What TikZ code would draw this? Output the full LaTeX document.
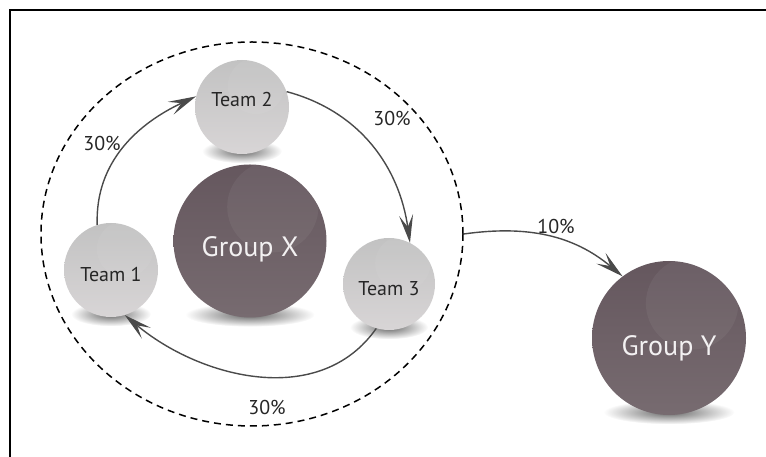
\documentclass[tikz,border=0pt]{standalone}
\usepackage{fontspec}
\setmainfont{PT Sans}
\usetikzlibrary{arrows.meta,shapes.geometric,fadings,backgrounds,calc}

\definecolor{teamtop}{HTML}{C2C2C2}
\definecolor{teambot}{HTML}{D8D5D6}
\definecolor{grptop}{HTML}{65575E}
\definecolor{grpbot}{HTML}{776B70}
\definecolor{flowgray}{HTML}{4A4A4A}

\tikzfading[name=softshadow, inner color=transparent!0, outer color=transparent!100]

\tikzset{
  team/.style={circle, minimum size=94pt, inner sep=0pt,
    top color=teamtop, bottom color=teambot},
  group/.style={circle, minimum size=153pt, inner sep=0pt,
    top color=grptop, bottom color=grpbot},
  flow/.style={draw=flowgray, line width=1.4pt,
    -{Stealth[length=28pt,width=14pt,inset=12pt]}},
  pct/.style={font=\fontsize{20}{24}\selectfont, text=black!85},
  teamlbl/.style={font=\fontsize{20}{24}\selectfont, text=black!85},
  grplbl/.style={font=\fontsize{28}{32}\selectfont, text=white!92!grptop},
}

\begin{document}
\begin{tikzpicture}[x=1pt, y=1pt]
    \useasboundingbox (0,0) rectangle (766,457);
    % frame
    \draw[line width=1.5pt] (10,0) -- (10,447) -- (766,447);

    % spheres
    \node[team] (t2) at (242,350) {};
    \node[team] (t1) at (111,187) {};
    \node[team, minimum size=92pt] (t3) at (389,173) {};
    \node[group] (gx) at (250,216) {};
    \node[group, minimum size=154pt] (gy) at (669,119) {};

    % shadows and highlights
    \begin{scope}[on background layer]
        \foreach \n/\r in {t1/47, t2/47, t3/46, gx/76, gy/77}
            \fill[black, opacity=.6, path fading=softshadow]
                ($(\n.south)+(0,3)$) ellipse ({.85*\r} and 12);
    \end{scope}
    \foreach \n/\r in {t1/47, t2/47, t3/46, gx/76, gy/77}{
        \begin{scope}
            \clip (\n) circle (\r);
            \fill[white, opacity=.05] ($(\n)+(.3*\r,.45*\r)$) circle ({.6*\r});
        \end{scope}
    }

    % labels
    \node[teamlbl] (l2) at ([yshift=7]t2) {Team 2};
    \node[teamlbl] (l1) at ([yshift=-5]t1) {Team 1};
    \node[teamlbl] (l3) at ([yshift=-5]t3) {Team 3};
    \node[grplbl] (lx) at ([yshift=-8]gx) {Group X};
    \node[grplbl] (ly) at ([yshift=-10]gy) {Group Y};

    % group X boundary
    \node[draw, ellipse, line width=1.5pt, dash pattern=on 7pt off 5pt,
        minimum width=422pt, minimum height=384pt, inner sep=0pt] (grp) at (252,223) {};

    % flows
    \draw[flow] (t1.107) to[out=92, in=205] (t2.167);
    \draw[flow] (t2.19) to[out=-15, in=98] (t3.63);
    \draw[flow] (t3.254) to[out=235, in=-40] (t1.287);
    \draw[flow] (grp.east) to[out=8, in=140] (gy.127);

    \node[pct] (p12) at (102,314) {30\%};
    \node[pct] (p23) at (392,339) {30\%};
    \node[pct] (p31) at (267,50) {30\%};
    \node[pct] (pxy) at (556,231) {10\%};
\end{tikzpicture}
\end{document}
